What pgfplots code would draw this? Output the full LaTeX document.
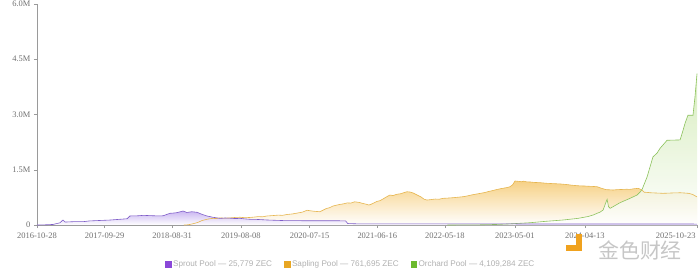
\documentclass[border=0pt]{standalone}
\usepackage{fontspec}
\setmainfont{Liberation Serif}
\newfontfamily\legendfont{Liberation Sans}
\newfontfamily\cjk{Noto Sans CJK SC}
\usepackage{pgfplots}
\usepackage{pgfplotstable}
\pgfplotsset{compat=1.18}

\definecolor{sproutline}{HTML}{7E5CC8}
\definecolor{sproutfill}{HTML}{C4AEF0}
\definecolor{saplingline}{HTML}{E6B54E}
\definecolor{saplingfill}{HTML}{F5C970}
\definecolor{orchardline}{HTML}{8CC25C}
\definecolor{orchardfill}{HTML}{CDE8AE}
\definecolor{axisgrey}{HTML}{9A9A9A}
\definecolor{labelgrey}{HTML}{707070}
\definecolor{legendgrey}{HTML}{B0B0B0}
\definecolor{sproutkey}{HTML}{8A48D8}
\definecolor{saplingkey}{HTML}{E8A623}
\definecolor{orchardkey}{HTML}{6CBA2E}
\definecolor{markorange}{HTML}{F0A21E}
\definecolor{markgrey}{HTML}{C6C6C6}

% day = days since 2016-10-28, value in ZEC
\pgfplotstableread{
day value
0 0
40 5000
80 15000
114 60000
129 135000
140 80000
180 90000
229 90000
260 110000
300 120000
363 135000
400 150000
448 170000
462 245000
500 250000
530 262000
560 255000
595 248000
627 250000
661 317000
690 330000
710 355000
726 380000
745 340000
770 360000
796 345000
820 290000
845 245000
875 210000
910 180000
935 190000
960 185000
985 175000
1010 180000
1035 165000
1059 155000
1100 150000
1144 136000
1200 125000
1243 117000
1300 117000
1400 115000
1500 115000
1535 110000
1545 40000
1600 30000
2000 30000
2500 28000
3282 25779
}\sprout

\pgfplotstableread{
day value
731 0
745 3000
760 15000
780 40000
800 70000
820 120000
845 155000
860 170000
875 180000
890 175000
910 195000
930 185000
960 192000
985 205000
1010 210000
1035 198000
1059 205000
1080 215000
1100 228000
1120 222000
1144 245000
1170 255000
1200 268000
1220 262000
1243 285000
1270 300000
1300 330000
1320 350000
1343 400000
1360 385000
1380 372000
1407 360000
1425 410000
1440 450000
1455 470000
1472 515000
1490 540000
1510 562000
1525 575000
1542 600000
1560 595000
1580 630000
1600 615000
1621 585000
1640 560000
1650 542000
1660 560000
1671 588000
1690 640000
1705 660000
1720 705000
1740 770000
1755 814000
1770 800000
1790 835000
1810 850000
1825 880000
1840 903000
1855 895000
1870 870000
1890 815000
1910 760000
1925 700000
1939 678000
1960 690000
1980 705000
2000 700000
2019 724000
2040 730000
2070 742000
2095 755000
2119 768000
2140 790000
2160 815000
2180 835000
2203 858000
2225 880000
2250 915000
2270 940000
2288 965000
2305 985000
2320 1000000
2340 1020000
2352 1040000
2365 1090000
2377 1195000
2395 1185000
2410 1175000
2420 1190000
2435 1170000
2452 1168000
2475 1155000
2500 1150000
2520 1140000
2536 1132000
2560 1125000
2580 1120000
2600 1115000
2616 1108000
2640 1095000
2660 1080000
2680 1070000
2700 1062000
2725 1058000
2750 1050000
2770 1045000
2785 1040000
2805 1000000
2830 960000
2850 955000
2865 950000
2885 960000
2910 965000
2930 970000
2949 968000
2970 985000
2990 995000
3005 960000
3020 890000
3035 885000
3048 876000
3080 868000
3113 860000
3140 865000
3160 870000
3180 872000
3198 876000
3220 868000
3240 860000
3260 830000
3270 800000
3282 761695
}\sapling

\pgfplotstableread{
day value
2041 0
2200 5000
2288 15000
2350 30000
2452 62000
2530 100000
2616 136000
2690 180000
2740 230000
2765 271000
2800 350000
2815 407000
2828 600000
2835 697000
2842 500000
2850 452000
2899 605000
2949 724000
2984 814000
3000 900000
3009 968000
3034 1310000
3063 1850000
3083 1950000
3098 2080000
3133 2300000
3198 2310000
3213 2580000
3223 2770000
3237 2980000
3262 2980000
3272 3480000
3282 4109284
}\orchard

\begin{document}
\begin{tikzpicture}
\path[use as bounding box] (-37bp,-48bp) rectangle (663bp,225bp);
\begin{axis}[
  at={(0,0)}, anchor=origin,
  scale only axis,
  width=660bp, height=221bp,
  xmin=0, xmax=3282,
  ymin=0, ymax=6000000,
  scaled y ticks=false,
  axis lines=left,
  axis line style={axisgrey, line width=0.6pt, -},
  tick style={axisgrey, line width=0.5pt},
  tick align=outside,
  major tick length=3bp,
  xtick={0,336,672,1014,1356,1692,2028,2376,2724},
  xticklabels={2016-10-28,2017-09-29,2018-08-31,2019-08-08,2020-07-15,2021-06-16,2022-05-18,2023-05-01,2024-04-13},
  extra x ticks={3282},
  extra x tick labels={2025-10-23},
  extra x tick style={xticklabel style={anchor=north east, xshift=2bp}},
  ytick={0,1500000,3000000,4500000,6000000},
  yticklabels={0,1.5M,3.0M,4.5M,6.0M},
  xticklabel style={font=\fontsize{8.5}{9}\selectfont, text=labelgrey, yshift=-1bp},
  yticklabel style={font=\fontsize{8.5}{9}\selectfont, text=labelgrey},
  clip=false,
  legend columns=3,
  legend style={at={(0.4755,-0.178)}, anchor=center, draw=none, fill=none,
    font=\legendfont\fontsize{8.2}{9}\selectfont, text=legendgrey,
    /tikz/every even column/.append style={column sep=10bp}},
  legend image code/.code={\fill[#1] (0.5bp,-2.5bp) rectangle (6bp,3bp);},
]
% shaded areas
\addplot[draw=none, top color=saplingfill, bottom color=white, fill opacity=0.85, forget plot] table[x=day,y=value] {\sapling} \closedcycle;
\addplot[draw=none, top color=orchardfill, bottom color=white, fill opacity=0.8, forget plot] table[x=day,y=value] {\orchard} \closedcycle;
\addplot[draw=none, top color=sproutfill, bottom color=white, fill opacity=0.9, forget plot] table[x=day,y=value] {\sprout} \closedcycle;
% outlines
\addplot[saplingline, line width=0.6pt, forget plot] table[x=day,y=value] {\sapling};
\addplot[orchardline, line width=0.6pt, forget plot] table[x=day,y=value] {\orchard};
\addplot[sproutline, line width=0.6pt, forget plot] table[x=day,y=value] {\sprout};
% legend keys
\addlegendimage{sproutkey}
\addlegendentry{Sprout Pool — 25,779 ZEC}
\addlegendimage{saplingkey}
\addlegendentry{Sapling Pool — 761,695 ZEC}
\addlegendimage{orchardkey}
\addlegendentry{Orchard Pool — 4,109,284 ZEC}
\end{axis}
% brand mark
\fill[markorange] (539bp,-26bp) rectangle (545bp,-9bp);
\fill[markorange] (529bp,-26bp) rectangle (545bp,-20bp);
\node[text=markgrey, font=\cjk\fontsize{21}{22}\selectfont] at (603bp,-25bp) {金色财经};
\end{tikzpicture}
\end{document}
